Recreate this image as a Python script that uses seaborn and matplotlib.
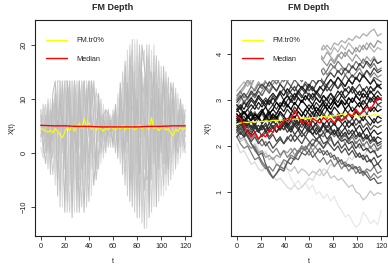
import matplotlib
matplotlib.use('Agg')
import matplotlib.pyplot as plt
from matplotlib.patches import Rectangle
import pandas as pd
import seaborn as sns

sns.set_style('white')
plt.rcParams['font.family'] = ['Liberation Sans', 'DejaVu Sans']

# ---------------- left panel data (values per time point, one column per curve)
t_left = list(range(0, 121, 2))
left_rows = [
    [5, 2, 7, 4, 8, 3, 6, 1, 5, 7, 3, 6],
    [3, 8, 0, 6, 2, 9, 4, -1, 7, 1, 5, 6],
    [7, 1, 4, 9, -2, 5, 2, 8, 0, 6, 3, 9],
    [0, 6, 9, 2, 5, -3, 8, 3, 10, 1, 7, 4],
    [8, -2, 3, 10, 1, 7, -4, 5, 2, 9, 0, 6],
    [2, 9, -1, 5, 11, 0, 6, 8, -4, 4, 10, 3],
    [11, -3, 7, 0, 13.3, 4, 9, -6, 2, 12, 5, -1],
    [-5, 13.3, 2, 9, 4, 13.3, -8, 6, 11, -2, 8, 0],
    [6, 13.3, -7, 3, 10, -2, 13.3, 1, -10, 8, 4, 12],
    [13.3, 0, 9, -10, 5, 13.3, 2, -4, 11, -6, 7, 3],
    [-3, 13.3, 4, 12, -11, 6, 13.3, -7, 1, 9, -1, 10],
    [8, 13.3, -9, 2, 13.3, -1, 5, 11, -5, 3, 13.3, -11],
    [13.3, -6, 11, 0, 7, -11, 13.3, 4, 10, -2, 6, 1],
    [1, 13.3, -4, 9, -12, 13.3, 3, 7, -8, 12, 0, 5],
    [10, -2, 13.3, -9, 5, 2, 13.3, -11, 8, 4, 13.3, -5],
    [-7, 6, 3, 13.3, 0, 11, -11, 13.3, 2, -3, 9, 7],
    [13.3, 1, -10, 7, 13.3, -5, 10, 4, -1, 13.3, -11, 3],
    [5, 13.3, 8, -6, 2, 13.3, -3, 12, -10, 6, 1, 9],
    [-2, 9, 13.3, 0, -11, 7, 13.3, -6, 4, 11, 13.3, 2],
    [12, -8, 3, 13.3, 6, -10, 1, 13.3, 8, -4, 5, 10],
    [3, 13.3, -5, 9, 13.3, 1, -9, 6, 11, 0, -2, 13.3],
    [13.3, 2, 10, -8, 5, 13.3, 7, -3, 0, 13.3, 9, 4],
    [6, -1, 13.3, 4, -6, 11, 2, 13.3, 8, -3, 12, 1],
    [-3, 10, 3, 12, 0, 6, -5, 8, 11, 2, 5, 9],
    [9, 2, -3, 7, 11, 4, 0, 5, 10, -1, 8, 6],
    [4, 8, 6, -2, 3, 10, 7, 1, 5, 9, 0, 6],
    [7, -1, 3, 9, 6, 2, 5, 8, 0, 4, 7, 3],
    [2, 6, 8, 1, 5, 7, 0, 4, 6, 3, 8, 5],
    [6, 4, 1, 7, 3, 5, 8, 2, 6, 4, 7, 5],
    [4, 7, 5, 2, 6, 1, 5, 7, 3, 6, 4, 5],
    [5, 2, 7, 6, 1, 8, 4, 3, 6, 5, 2, 7],
    [8, 5, 0, 3, 9, 4, 6, 1, 7, 2, 6, 5],
    [1, 9, 6, 11, -1, 7, 3, 10, 0, 8, 4, 5],
    [10, -2, 4, 7, 13, 1, 9, 3, 12, -1, 6, 8],
    [-1, 12, 8, 2, 6, 15, -4, 10, 4, 13, 0, 7],
    [14, 3, -6, 11, 0, 8, 17, 5, -2, 9, 16, 2],
    [2, 17, 10, -4, 13, -8, 6, 19, 0, 15, 4, 9],
    [18, -3, 5, 12, -9, 20, 9, 1, 14, -6, 11, 4],
    [-6, 10, 21, 3, 16, 6, -10, 13, 19, -1, 8, 0],
    [12, 1, -8, 20, 4, -11, 15, 7, -3, 21, 9, 17],
    [5, 21, 14, -7, 10, 18, -12, 2, 16, 7, -2, 12],
    [-10, 8, 3, 17, -4, 11, 20, 6, -12, 13, 19, 1],
    [15, -6, 9, 0, 20, -13, 4, 17, 11, -1, 7, -9],
    [3, 12, -14, 8, 16, 1, -7, 19, -3, 6, 14, 10],
    [18, -2, 6, -14, 11, 20, 2, -9, 14, 4, -5, 9],
    [-8, 14, 20, 5, -12, 9, 16, 0, 7, 18, -4, 12],
    [10, 4, -5, 19, 7, -11, 13, 17, -1, 2, 15, 6],
    [1, 20, 11, -7, 15, 4, 8, -10, 18, 12, -2, 5],
    [13, -4, 2, 16, -10, 10, 18, 6, 0, -6, 9, 14],
    [-3, 9, 17, 4, 12, -9, 1, 15, 7, 11, 0, -5],
    [8, -8, 5, 14, 0, 16, 11, -3, 3, 12, 6, 10],
    [14, 3, -6, 10, 16, 1, -2, 8, 12, -8, 5, 7],
    [-2, 12, 7, -7, 4, 10, 15, 0, 6, 13, -4, 9],
    [9, 0, 14, 5, -3, 7, 2, 12, -6, 4, 11, 1],
    [3, 11, -1, 8, 13, -5, 6, 1, 10, 7, 4, -2],
    [12, 5, 2, -4, 9, 6, 13, 8, 0, 3, 10, -1],
    [0, 8, 11, 6, 1, 12, -3, 4, 9, 5, 2, 7],
    [7, -2, 4, 10, 3, 1, 8, 11, 2, 6, 0, 5],
    [4, 9, 1, 6, 10, 3, 5, -1, 8, 2, 7, 6],
    [6, 2, 8, 0, 5, 9, 3, 7, 1, 4, 6, 8],
    [3, 7, 5, 2, 8, 4, 0, 6, 5, 7, 1, 4],
]
left_grays = ['#c0c0c0', '#d6d6d6', '#c8c8c8', '#dedede', '#bcbcbc', '#d0d0d0',
              '#c4c4c4', '#dadada', '#cccccc', '#e2e2e2', '#c2c2c2', '#d3d3d3']
left_trim = [4.6, 4.3, 4.1, 3.8, 4.2, 3.7, 4.5, 4.0, 3.3, 2.8, 3.9, 4.6, 4.1, 5.2, 4.0, 4.8,
             5.4, 4.5, 6.3, 4.9, 5.6, 4.3, 5.1, 4.2, 4.7, 4.4, 4.0, 4.6, 4.3, 4.8, 4.5, 4.2,
             4.9, 4.4, 5.1, 4.3, 4.7, 4.5, 5.0, 4.2, 4.6, 5.2, 4.4, 4.9, 4.6, 4.3, 6.5, 4.5,
             4.8, 4.1, 4.6, 4.9, 4.2, 4.5, 3.7, 3.1, 4.4, 4.0, 4.7, 4.3, 4.6]
t_med_left = list(range(0, 121, 10))
left_med = [5.1, 5.0, 5.0, 4.9, 4.9, 4.8, 4.8, 4.8, 4.8, 4.9, 4.9, 5.0, 5.0]

# ---------------- right panel data (one list per curve)
t_right = list(range(0, 121, 3))
right_curves = [
    [2.4, 2.3, 2.35, 2.2, 2.1, 2.15, 1.95, 1.85, 1.9, 1.7, 1.75, 1.6, 1.65, 1.45, 1.5, 1.3, 1.15, 1.25, 1.1, 1.2, 1.05,
     1.15, 0.95, 1.0, 0.85, 0.95, 0.8, 0.9, 0.7, 0.6, 0.45, 0.5, 0.35, 0.22, 0.3, 0.55, 0.45, 0.3, 0.38, 0.28, 0.6],
    [2.2, 2.1, 2.15, 2.0, 1.95, 2.05, 1.9, 1.8, 1.85, 1.7, 1.75, 1.6, 1.55, 1.65, 1.5, 1.45, 1.55, 1.4, 1.5, 1.45, 1.35,
     1.45, 1.4, 1.5, 1.35, 1.45, 1.3, 1.35, 1.25, 1.3, 1.2, 1.1, 1.15, 1.0, 0.95, 0.82, 0.9, 1.02, 0.92, 0.98, 0.95],
    [2.05, 1.85, 1.9, 1.75, 1.6, 1.65, 1.5, 1.45, 1.55, 1.4, 1.35, 1.25, 1.3, 1.2, 1.1, 1.05, 1.15, 1.05, 1.1, 1.2, 1.3,
     1.25, 1.4, 1.35, 1.5, 1.45, 1.6, 1.55, 1.7, 1.65, 1.6, 1.75, 1.7, 1.85, 1.8, 1.75, 1.9, 1.85, 1.95, 1.9, 2.0],
    [2.45, 2.3, 2.2, 2.25, 2.05, 1.95, 1.8, 1.85, 1.6, 1.45, 1.3, 1.4, 1.5, 1.45, 1.65, 1.6, 1.75, 1.7, 1.85, 1.8, 1.9,
     1.75, 1.85, 1.95, 1.8, 1.9, 1.75, 1.8, 1.65, 1.7, 1.55, 1.6, 1.5, 1.55, 1.4, 1.45, 1.35, 1.25, 1.3, 1.18, 1.2],
    [2.2, 2.05, 1.95, 2.0, 1.85, 1.7, 1.75, 1.6, 1.5, 1.55, 1.45, 1.6, 1.55, 1.7, 1.65, 1.8, 1.75, 1.9, 1.85, 2.0, 1.9,
     2.05, 1.95, 1.85, 1.9, 1.8, 1.85, 1.7, 1.75, 1.6, 1.65, 1.55, 1.6, 1.5, 1.55, 1.4, 1.5, 1.45, 1.55, 1.4, 1.45],
    [2.6, 2.5, 2.55, 2.4, 2.45, 2.3, 2.35, 2.2, 2.3, 2.15, 2.25, 2.1, 2.2, 2.05, 2.15, 2.25, 2.1, 2.2, 2.3, 2.2, 2.35,
     2.25, 2.15, 2.2, 2.05, 2.1, 2.2, 2.0, 2.1, 1.95, 2.05, 1.9, 2.0, 1.85, 1.75, 1.8, 1.65, 1.7, 1.55, 1.62, 1.5],
    [2.3, 2.15, 2.2, 2.05, 1.95, 2.0, 1.85, 1.9, 1.75, 1.8, 1.7, 1.8, 1.75, 1.9, 1.85, 1.95, 1.8, 1.9, 2.0, 1.95, 2.05,
     1.9, 2.0, 2.1, 1.95, 2.05, 2.15, 2.0, 2.1, 2.2, 2.05, 2.15, 2.0, 2.1, 1.95, 2.05, 1.9, 2.0, 1.85, 1.95, 1.95],
    [2.7, 2.6, 2.65, 2.5, 2.55, 2.4, 2.45, 2.35, 2.45, 2.3, 2.4, 2.5, 2.35, 2.45, 2.3, 2.4, 2.25, 2.35, 2.2, 2.3, 2.4,
     2.25, 2.35, 2.2, 2.3, 2.15, 2.25, 2.35, 2.2, 2.1, 2.15, 2.05, 2.1, 1.95, 2.05, 1.9, 1.95, 1.85, 1.9, 1.75, 1.8],
    [2.5, 2.55, 2.4, 2.5, 2.35, 2.45, 2.3, 2.4, 2.5, 2.35, 2.45, 2.3, 2.4, 2.55, 2.45, 2.35, 2.5, 2.4, 2.3, 2.45, 2.35,
     2.25, 2.4, 2.3, 2.45, 2.35, 2.25, 2.35, 2.2, 2.3, 2.4, 2.25, 2.35, 2.2, 2.3, 2.15, 2.25, 2.1, 2.2, 2.05, 2.1],
    [2.8, 2.7, 2.75, 2.6, 2.7, 2.55, 2.65, 2.5, 2.6, 2.7, 2.55, 2.65, 2.5, 2.6, 2.45, 2.55, 2.65, 2.5, 2.6, 2.45, 2.55,
     2.4, 2.5, 2.6, 2.45, 2.55, 2.4, 2.5, 2.35, 2.45, 2.55, 2.4, 2.5, 2.35, 2.45, 2.3, 2.4, 2.25, 2.35, 2.25, 2.3],
    [2.3, 2.4, 2.25, 2.35, 2.2, 2.3, 2.15, 2.25, 2.35, 2.2, 2.3, 2.45, 2.35, 2.5, 2.4, 2.55, 2.45, 2.6, 2.5, 2.65, 2.55,
     2.7, 2.6, 2.75, 2.65, 2.8, 2.7, 2.6, 2.7, 2.55, 2.65, 2.5, 2.6, 2.45, 2.55, 2.4, 2.5, 2.35, 2.45, 2.4, 2.45],
    [2.6, 2.7, 2.55, 2.65, 2.75, 2.6, 2.7, 2.8, 2.65, 2.75, 2.6, 2.7, 2.85, 2.75, 2.9, 2.8, 2.7, 2.85, 2.75, 2.65, 2.8,
     2.7, 2.85, 2.75, 2.9, 2.8, 2.7, 2.85, 2.75, 2.65, 2.8, 2.7, 2.6, 2.75, 2.65, 2.55, 2.7, 2.6, 2.5, 2.65, 2.6],
    [2.7, 2.6, 2.75, 2.65, 2.55, 2.7, 2.6, 2.75, 2.85, 2.7, 2.8, 2.95, 2.85, 3.0, 2.9, 2.8, 2.95, 2.85, 3.0, 2.9, 2.8,
     2.9, 2.75, 2.85, 2.95, 2.8, 2.9, 3.0, 2.85, 2.95, 2.8, 2.9, 2.75, 2.85, 2.95, 2.8, 2.9, 2.75, 2.85, 2.75, 2.8],
    [2.4, 2.5, 2.35, 2.45, 2.55, 2.45, 2.6, 2.5, 2.65, 2.55, 2.7, 2.6, 2.75, 2.65, 2.8, 2.7, 2.85, 2.75, 2.65, 2.8, 2.9,
     2.8, 2.95, 2.85, 3.0, 2.9, 3.05, 2.95, 2.85, 3.0, 2.9, 3.05, 2.95, 3.1, 3.0, 2.9, 3.05, 2.95, 3.05, 2.9, 2.95],
    [2.9, 2.8, 2.95, 2.85, 3.0, 2.9, 3.05, 2.95, 2.85, 3.0, 2.9, 3.05, 3.15, 3.0, 3.1, 2.95, 3.05, 3.2, 3.1, 3.0, 3.15,
     3.05, 3.2, 3.1, 2.95, 3.05, 3.15, 3.0, 3.1, 3.2, 3.05, 3.15, 3.25, 3.1, 3.2, 3.05, 3.15, 3.0, 3.1, 3.2, 3.1],
    [2.55, 2.65, 2.75, 2.65, 2.8, 2.9, 2.8, 2.95, 3.05, 2.95, 3.1, 3.0, 3.15, 3.25, 3.1, 3.2, 3.3, 3.15, 3.25, 3.35, 3.2,
     3.3, 3.15, 3.25, 3.35, 3.2, 3.3, 3.4, 3.25, 3.35, 3.2, 3.3, 3.15, 3.25, 3.35, 3.2, 3.3, 3.15, 3.25, 3.3, 3.25],
    [3.0, 3.1, 2.95, 3.05, 3.15, 3.05, 3.2, 3.1, 3.25, 3.15, 3.3, 3.2, 3.35, 3.25, 3.4, 3.3, 3.45, 3.35, 3.25, 3.4, 3.3,
     3.45, 3.35, 3.5, 3.4, 3.3, 3.45, 3.35, 3.5, 3.4, 3.55, 3.45, 3.35, 3.5, 3.4, 3.55, 3.45, 3.35, 3.5, 3.45, 3.4],
    [2.75, 2.85, 3.0, 2.9, 3.05, 3.15, 3.05, 3.2, 3.3, 3.2, 3.35, 3.45, 3.35, 3.5, 3.4, 3.55, 3.65, 3.5, 3.6, 3.7, 3.55,
     3.65, 3.75, 3.6, 3.7, 3.55, 3.65, 3.75, 3.6, 3.7, 3.55, 3.65, 3.5, 3.6, 3.7, 3.55, 3.65, 3.5, 3.6, 3.5, 3.55],
    [3.1, 3.2, 3.05, 3.15, 3.3, 3.2, 3.35, 3.25, 3.4, 3.3, 3.45, 3.35, 3.5, 3.4, 3.55, 3.45, 3.6, 3.5, 3.4, 3.55, 3.65,
     3.5, 3.6, 3.7, 3.55, 3.65, 3.8, 3.7, 3.85, 3.75, 3.65, 3.8, 3.7, 3.85, 3.75, 3.9, 3.8, 3.7, 3.8, 3.65, 3.7],
    [2.85, 3.0, 3.1, 3.0, 3.15, 3.25, 3.4, 3.3, 3.45, 3.55, 3.45, 3.6, 3.7, 3.6, 3.75, 3.65, 3.8, 3.9, 3.8, 3.95, 3.85,
     3.75, 3.9, 4.0, 3.9, 4.05, 3.95, 3.85, 4.0, 3.9, 4.05, 3.95, 3.85, 4.0, 3.9, 3.8, 3.95, 3.85, 3.95, 3.8, 3.85],
    [3.2, 3.3, 3.4, 3.3, 3.45, 3.55, 3.45, 3.6, 3.7, 3.6, 3.75, 3.85, 3.75, 3.9, 3.8, 3.95, 4.05, 3.95, 4.1, 4.0, 3.9,
     4.05, 4.15, 4.05, 4.2, 4.1, 4.0, 4.15, 4.05, 4.2, 4.1, 4.25, 4.15, 4.05, 4.2, 4.1, 4.25, 4.15, 4.05, 4.15, 4.1],
    [3.0, 3.15, 3.25, 3.4, 3.3, 3.5, 3.6, 3.5, 3.7, 3.8, 3.7, 3.85, 3.95, 3.85, 4.0, 3.9, 4.05, 3.95, 4.1, 4.0, 4.15,
     4.05, 4.2, 4.15, 4.1, 4.2, 4.1, 4.25, 4.2, 4.3, 4.25, 4.35, 4.3, 4.4, 4.35, 4.45, 4.4, 4.5, 4.55, 4.4, 4.45],
    [2.35, 2.45, 2.55, 2.45, 2.6, 2.7, 2.6, 2.75, 2.65, 2.8, 2.9, 2.8, 2.95, 2.85, 3.0, 3.1, 3.0, 3.15, 3.05, 3.2, 3.1,
     3.0, 3.15, 3.05, 3.2, 3.3, 3.2, 3.35, 3.25, 3.4, 3.3, 3.45, 3.55, 3.45, 3.6, 3.5, 3.65, 3.55, 3.7, 3.6, 3.65],
    [2.6, 2.45, 2.3, 2.2, 2.05, 1.9, 1.8, 1.65, 1.55, 1.4, 1.3, 1.4, 1.55, 1.5, 1.65, 1.75, 1.7, 1.85, 1.95, 1.9, 2.05,
     2.15, 2.1, 2.25, 2.2, 2.35, 2.3, 2.2, 2.3, 2.15, 2.25, 2.1, 2.2, 2.05, 2.15, 2.0, 2.1, 1.95, 2.05, 1.9, 2.0],
    [2.8, 2.9, 2.8, 2.95, 3.05, 2.95, 3.1, 3.0, 2.9, 3.05, 3.15, 3.05, 3.2, 3.1, 3.25, 3.15, 3.05, 3.2, 3.3, 3.2, 3.35,
     3.25, 3.15, 3.3, 3.2, 3.35, 3.45, 3.35, 3.5, 3.4, 3.3, 3.45, 3.35, 3.5, 3.4, 3.55, 3.45, 3.35, 3.45, 3.3, 3.35],
    [2.45, 2.35, 2.5, 2.4, 2.3, 2.45, 2.35, 2.5, 2.6, 2.5, 2.65, 2.55, 2.7, 2.6, 2.5, 2.65, 2.55, 2.45, 2.6, 2.5, 2.65,
     2.75, 2.65, 2.8, 2.7, 2.6, 2.75, 2.65, 2.55, 2.7, 2.6, 2.75, 2.85, 2.75, 2.65, 2.8, 2.7, 2.85, 2.75, 2.9, 2.85],
    [2.55, 2.65, 2.5, 2.6, 2.7, 2.55, 2.65, 2.75, 2.6, 2.7, 2.8, 2.7, 2.85, 2.95, 2.85, 3.0, 2.9, 3.05, 2.95, 3.1, 3.0,
     3.15, 3.05, 2.95, 3.1, 3.0, 3.15, 3.05, 3.2, 3.1, 3.25, 3.15, 3.3, 3.2, 3.1, 3.25, 3.15, 3.3, 3.2, 3.35, 3.25],
    [2.65, 2.55, 2.45, 2.55, 2.4, 2.5, 2.35, 2.45, 2.3, 2.4, 2.55, 2.45, 2.35, 2.5, 2.4, 2.3, 2.45, 2.35, 2.5, 2.4, 2.3,
     2.4, 2.25, 2.35, 2.45, 2.3, 2.4, 2.25, 2.35, 2.2, 2.3, 2.15, 2.25, 2.35, 2.2, 2.3, 2.15, 2.25, 2.1, 2.2, 2.15],
    [2.75, 2.85, 2.7, 2.8, 2.9, 2.8, 2.95, 2.85, 3.0, 2.9, 3.05, 2.95, 2.85, 3.0, 3.1, 3.0, 3.15, 3.05, 2.95, 3.1, 3.0,
     2.9, 3.05, 2.95, 3.1, 3.0, 2.9, 3.05, 2.95, 3.1, 3.0, 2.9, 3.05, 2.95, 2.85, 3.0, 2.9, 3.05, 2.95, 3.1, 3.0],
    [2.35, 2.25, 2.35, 2.2, 2.1, 2.2, 2.05, 2.15, 2.0, 2.1, 1.95, 2.05, 2.15, 2.05, 2.2, 2.1, 2.25, 2.15, 2.05, 2.2, 2.1,
     2.0, 2.15, 2.05, 1.95, 2.1, 2.0, 1.9, 2.0, 1.85, 1.95, 1.8, 1.9, 1.75, 1.85, 1.7, 1.8, 1.65, 1.75, 1.6, 1.7],
    [2.5, 2.6, 2.5, 2.65, 2.55, 2.7, 2.6, 2.5, 2.65, 2.55, 2.7, 2.6, 2.75, 2.65, 2.55, 2.7, 2.6, 2.75, 2.65, 2.8, 2.7,
     2.6, 2.75, 2.65, 2.8, 2.9, 2.8, 2.95, 2.85, 3.0, 2.9, 3.05, 2.95, 3.1, 3.0, 3.15, 3.05, 3.2, 3.1, 3.0, 3.05],
    [2.95, 3.05, 3.15, 3.05, 3.2, 3.1, 3.25, 3.35, 3.25, 3.4, 3.3, 3.2, 3.35, 3.25, 3.15, 3.3, 3.2, 3.35, 3.25, 3.15, 3.3,
     3.2, 3.35, 3.45, 3.35, 3.5, 3.6, 3.5, 3.65, 3.55, 3.7, 3.6, 3.75, 3.65, 3.8, 3.7, 3.85, 3.75, 3.9, 3.8, 3.85],
    [2.4, 2.3, 2.4, 2.25, 2.15, 2.25, 2.1, 2.0, 2.1, 1.95, 1.85, 1.95, 1.8, 1.9, 1.75, 1.85, 1.95, 1.85, 2.0, 1.9, 1.8,
     1.9, 1.75, 1.65, 1.75, 1.6, 1.7, 1.55, 1.65, 1.5, 1.6, 1.45, 1.55, 1.4, 1.5, 1.35, 1.45, 1.3, 1.4, 1.3, 1.35],
    [3.05, 3.2, 3.3, 3.45, 3.35, 3.5, 3.65, 3.55, 3.7, 3.6, 3.75, 3.65, 3.8, 3.7, 3.85, 3.75, 3.9, 3.8, 3.7, 3.85, 3.75,
     3.9, 3.8, 3.95, 3.85, 3.75, 3.9, 3.8, 3.95, 4.05, 3.95, 4.1, 4.0, 4.15, 4.05, 4.2, 4.1, 4.25, 4.15, 4.3, 4.25],
    [2.2, 2.3, 2.2, 2.35, 2.25, 2.4, 2.3, 2.45, 2.35, 2.5, 2.4, 2.3, 2.45, 2.35, 2.5, 2.4, 2.55, 2.45, 2.6, 2.5, 2.4,
     2.55, 2.45, 2.35, 2.5, 2.4, 2.55, 2.45, 2.6, 2.5, 2.4, 2.55, 2.45, 2.6, 2.5, 2.65, 2.55, 2.45, 2.6, 2.5, 2.55],
    [2.9, 2.8, 2.7, 2.8, 2.65, 2.75, 2.6, 2.7, 2.55, 2.65, 2.5, 2.6, 2.45, 2.55, 2.4, 2.5, 2.6, 2.5, 2.4, 2.55, 2.45,
     2.35, 2.5, 2.4, 2.3, 2.45, 2.35, 2.25, 2.4, 2.3, 2.2, 2.35, 2.25, 2.15, 2.25, 2.1, 2.2, 2.05, 2.15, 2.0, 2.05],
]
right_grays = ['#e8e8e8', '#c4c4c4', '#d8d8d8', '#5a5a5a', '#7a7a7a', '#444444', '#999999',
               '#3a3a3a', '#2e2e2e', '#1e1e1e', '#505050', '#101010', '#000000', '#333333',
               '#252525', '#474747', '#5e5e5e', '#8a8a8a', '#767676', '#a0a0a0', '#b4b4b4',
               '#acacac', '#3d3d3d', '#6e6e6e', '#1a1a1a', '#585858', '#202020', '#2a2a2a',
               '#151515', '#4a4a4a', '#0a0a0a', '#3f3f3f', '#808080', '#959595', '#303030',
               '#626262']
right_trim = [2.48, 2.5, 2.52, 2.51, 2.53, 2.52, 2.54, 2.53, 2.55, 2.54, 2.56, 2.55, 2.57, 2.56,
              2.58, 2.57, 2.59, 2.58, 2.6, 2.61, 2.6, 2.62, 2.61, 2.63, 2.64, 2.63, 2.65, 2.66,
              2.67, 2.69, 2.7, 2.69, 2.68, 2.66, 2.65, 2.66, 2.67, 2.66, 2.68, 2.67, 2.67]
right_med = [2.65, 2.6, 2.45, 2.3, 2.2, 2.3, 2.15, 2.25, 2.2, 2.35, 2.3, 2.45, 2.4, 2.55,
             2.6, 2.55, 2.78, 2.65, 2.5, 2.55, 2.45, 2.6, 2.55, 2.5, 2.62, 2.55, 2.6, 2.5,
             2.65, 2.55, 2.6, 2.7, 2.65, 2.8, 2.7, 2.75, 2.85, 2.8, 2.92, 3.05, 3.02]

# long format tables
left_df = pd.DataFrame(
    [(t, j, v) for t, row in zip(t_left, left_rows) for j, v in enumerate(row)],
    columns=['t', 'curve', 'x'])
right_df = pd.DataFrame(
    [(t, j, v) for j, curve in enumerate(right_curves) for t, v in zip(t_right, curve)],
    columns=['t', 'curve', 'x'])

fig = plt.figure(figsize=(3.88, 2.71), dpi=100)
ax1 = fig.add_axes([0.0902, 0.1292, 0.4021, 0.797])
ax2 = fig.add_axes([0.5954, 0.1292, 0.4021, 0.797])

# light curves first, dark ones on top
left_order = sorted(range(len(left_grays)), key=lambda k: left_grays[k], reverse=True)
right_order = sorted(range(len(right_grays)), key=lambda k: right_grays[k], reverse=True)

sns.lineplot(data=left_df, x='t', y='x', hue='curve', units='curve', estimator=None,
             palette=dict(enumerate(left_grays)), hue_order=left_order,
             legend=False, lw=0.7, ax=ax1)
sns.lineplot(x=t_left, y=left_trim, color='#ffff00', lw=0.8, label='FM.tr0%', ax=ax1)
sns.lineplot(x=t_med_left, y=left_med, color='#ff0000', lw=1.0, label='Median', ax=ax1)

sns.lineplot(data=right_df, x='t', y='x', hue='curve', units='curve', estimator=None,
             palette=dict(enumerate(right_grays)), hue_order=right_order,
             legend=False, lw=0.9, ax=ax2)
sns.lineplot(x=t_right, y=right_trim, color='#ffff00', lw=0.9, label='FM.tr0%', ax=ax2)
sns.lineplot(x=t_right, y=right_med, color='#ff0000', lw=1.0, label='Median', ax=ax2)

ax1.set_ylim(-15.4, 24.6)
ax1.set_yticks([-10, 0, 10, 20])
ax2.set_ylim(0.035, 4.75)
ax2.set_yticks([1, 2, 3, 4])

# white legend box (R style) hiding the curves behind it
box_w = {ax1: 0.558, ax2: 0.577}

for ax in (ax1, ax2):
    ax.set_xlim(-4.8, 124.8)
    ax.set_xticks(range(0, 121, 20))
    ax.grid(False)
    ax.set_title('FM Depth', fontsize=6.5, fontweight='bold', pad=7)
    ax.set_xlabel('t', fontsize=5.3)
    ax.set_ylabel('X(t)', fontsize=5.3)
    ax.xaxis.set_label_coords(0.5, -0.1)
    ax.yaxis.set_label_coords(-0.124, 0.5)
    ax.tick_params(direction='out', length=3.2, width=0.6, pad=2, labelsize=5.3,
                   colors='#222222', left=True, bottom=True)
    for s in ax.spines.values():
        s.set_linewidth(0.8)
        s.set_color('#222222')
    for lab in ax.get_yticklabels():
        lab.set_rotation(90)
        lab.set_va('center')
    ax.add_patch(Rectangle((0, 0.72), box_w[ax], 0.28, transform=ax.transAxes,
                           facecolor='white', edgecolor='none', zorder=2.3))
    leg = ax.legend(loc='upper left', bbox_to_anchor=(0.0, 0.972), borderaxespad=0,
                    frameon=False, fontsize=5.3, handlelength=2.8, handletextpad=1.26,
                    labelspacing=1.55, borderpad=1.5)

fig.savefig('out.png', dpi=100)
